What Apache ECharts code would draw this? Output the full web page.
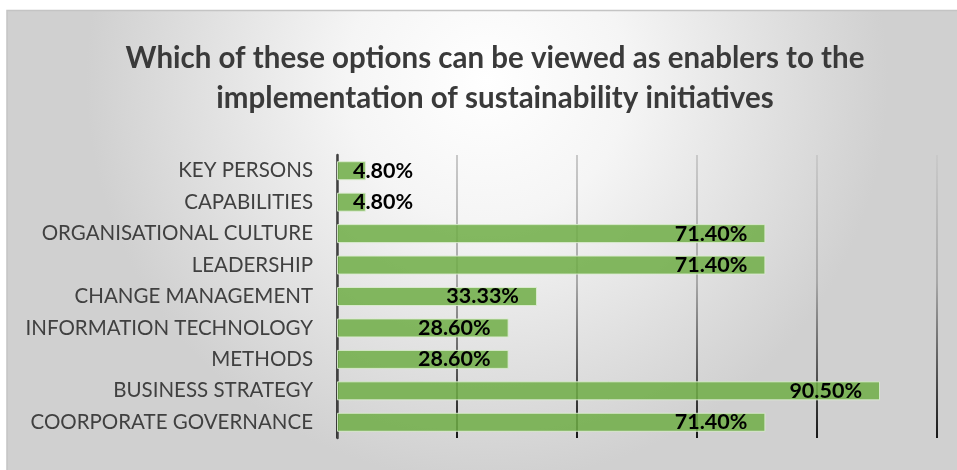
<!DOCTYPE html>
<html>
<head>
<meta charset="utf-8">
<script src="https://cdn.jsdelivr.net/npm/echarts@6/dist/echarts.min.js"></script>
<style>
html,body{margin:0;padding:0;background:#ffffff;}
#chart{width:957px;height:470px;}
</style>
</head>
<body>
<div id="chart"></div>
<script>
const titleText = "Which of these options can be viewed as enablers to the\nimplementation of sustainability initiatives";
const categories = ["KEY PERSONS","CAPABILITIES","ORGANISATIONAL CULTURE","LEADERSHIP","CHANGE MANAGEMENT","INFORMATION TECHNOLOGY","METHODS","BUSINESS STRATEGY","COORPORATE GOVERNANCE"];
const values = [4.80, 4.80, 71.40, 71.40, 33.33, 28.60, 28.60, 90.50, 71.40];
const axisMin = 0, axisMax = 100, axisStep = 20;

const chart = echarts.init(document.getElementById('chart'), null, {renderer:'canvas'});

const seriesData = values.map(v => {
  const item = {value: v};
  if (v < 10) {
    item.label = {position: 'insideLeft', distance: 16};
  }
  return item;
});

const option = {
  animation: false,
  graphic: [{
    type: 'rect',
    z: -10,
    silent: true,
    shape: {x: 7, y: 10.5, width: 960, height: 470},
    style: {
      fill: new echarts.graphic.RadialGradient(0.5, 0.15, 0.85, [
        {offset: 0, color: '#ffffff'},
        {offset: 0.35, color: '#f5f5f5'},
        {offset: 1, color: '#d0d0d0'}
      ]),
      stroke: '#c4c4c4',
      lineWidth: 1.5
    }
  }],
  title: {
    text: titleText,
    left: 490,
    top: 33,
    textAlign: 'center',
    textStyle: {
      fontFamily: 'Lato',
      fontWeight: 'bold',
      fontSize: 29.5,
      lineHeight: 40,
      color: '#3a3a3a'
    }
  },
  grid: {left: 337, right: 20, top: 155, height: 283, containLabel: false},
  xAxis: {
    type: 'value',
    min: axisMin,
    max: axisMax,
    interval: axisStep,
    axisLabel: {show: false},
    axisLine: {show: false},
    axisTick: {show: false},
    splitLine: {
      show: true,
      lineStyle: {
        width: 2,
        color: new echarts.graphic.LinearGradient(0, 0, 0, 1, [
          {offset: 0, color: '#cacaca'},
          {offset: 0.45, color: '#a8a8a8'},
          {offset: 1, color: '#151515'}
        ])
      }
    }
  },
  yAxis: {
    type: 'category',
    data: categories,
    inverse: true,
    axisTick: {show: false},
    axisLine: {show: true, lineStyle: {color: '#404040', width: 2.5}},
    axisLabel: {
      margin: 24,
      fontFamily: 'Lato',
      fontSize: 20.5,
      color: '#404040'
    }
  },
  series: [{
    type: 'bar',
    data: seriesData,
    barWidth: 19,
    itemStyle: {
      color: 'rgba(112,173,71,0.86)',
      borderColor: 'rgba(220,236,208,0.9)',
      borderWidth: 1
    },
    label: {
      show: true,
      position: 'insideRight',
      distance: 18,
      formatter: p => p.value.toFixed(2) + '%',
      fontFamily: 'Lato',
      fontWeight: 'bold',
      fontSize: 21.5,
      color: '#000000'
    }
  }]
};
chart.setOption(option);
</script>
</body>
</html>
